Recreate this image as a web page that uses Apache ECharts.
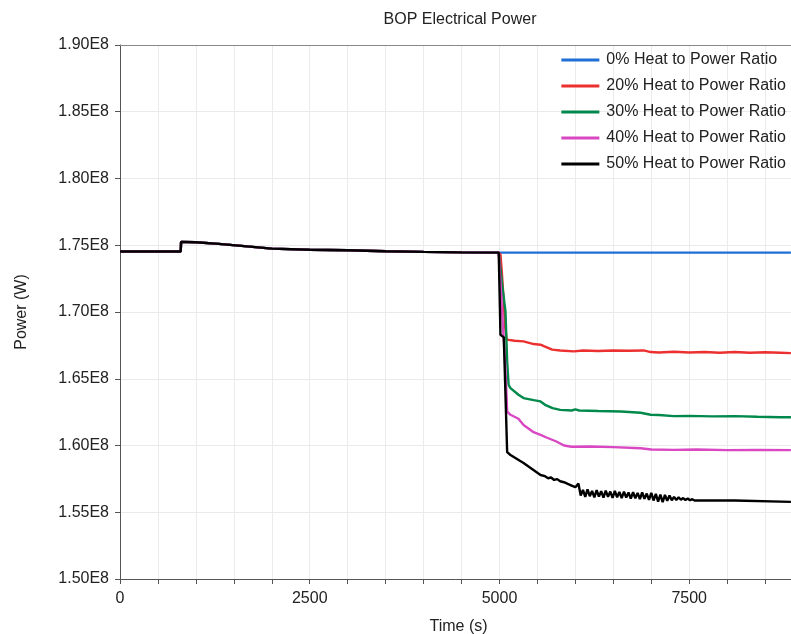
<!DOCTYPE html>
<html>
<head>
<meta charset="utf-8">
<script src="https://cdn.jsdelivr.net/npm/echarts@6/dist/echarts.min.js"></script>
<style>
html,body{margin:0;padding:0;background:#fff;}
#chart{width:791px;height:634px;}
</style>
</head>
<body>
<div id="chart"></div>
<script>
// Values in units of 1E8 W, time in seconds
var seriesNames = ['0% Heat to Power Ratio','20% Heat to Power Ratio','30% Heat to Power Ratio','40% Heat to Power Ratio','50% Heat to Power Ratio'];
var seriesColors = ['#1f6fd8','#ec3030','#00894a','#d948c2','#000000'];

// shared history before the event at t = 5000 s
var baseT = [0, 800, 805, 1000, 1300, 1600, 2000, 2500, 3000, 3500, 4000, 4500, 4990];
var baseV = [1.7453, 1.7453, 1.7525, 1.7522, 1.7510, 1.7495, 1.7475, 1.7466, 1.7462, 1.7455, 1.7450, 1.7447, 1.7445];

var blueT = [8840];
var blueV = [1.7445];

var redT = [5000, 5013, 5030, 5050, 5075, 5095, 5200, 5317, 5450, 5541, 5600, 5695, 5800, 5980, 6100, 6300, 6500, 6700, 6900, 6992, 7100, 7300, 7500, 7700, 7900, 8100, 8300, 8500, 8700, 8840];
var redV = [1.7445, 1.7430, 1.7306, 1.7131, 1.6883, 1.6793, 1.6785, 1.6780, 1.6760, 1.6755, 1.6740, 1.6718, 1.6712, 1.6705, 1.6712, 1.6708, 1.6712, 1.6710, 1.6712, 1.6700, 1.6697, 1.6702, 1.6697, 1.6700, 1.6695, 1.6700, 1.6695, 1.6698, 1.6695, 1.6692];

var greenT = [5000, 5035, 5079, 5101, 5120, 5145, 5250, 5317, 5450, 5541, 5600, 5700, 5800, 5950, 6000, 6050, 6300, 6600, 6860, 6992, 7100, 7296, 7500, 7800, 8100, 8400, 8700, 8840];
var greenV = [1.7445, 1.7206, 1.7005, 1.6630, 1.6455, 1.6430, 1.6380, 1.6355, 1.6340, 1.6330, 1.6305, 1.6280, 1.6267, 1.6262, 1.6270, 1.6262, 1.6258, 1.6255, 1.6245, 1.6230, 1.6228, 1.6220, 1.6222, 1.6218, 1.6220, 1.6215, 1.6212, 1.6212];

var pinkT = [5000, 5080, 5101, 5145, 5250, 5317, 5450, 5541, 5620, 5750, 5850, 5950, 6200, 6500, 6860, 7000, 7296, 7600, 8000, 8400, 8840];
var pinkV = [1.7445, 1.6555, 1.6254, 1.6230, 1.6200, 1.6154, 1.6100, 1.6079, 1.6060, 1.6030, 1.6000, 1.5991, 1.5993, 1.5988, 1.5979, 1.5970, 1.5967, 1.5970, 1.5965, 1.5967, 1.5965];

var blackT = [5000, 5013, 5057, 5101, 5145, 5317, 5541, 5600, 5640, 5680, 5720, 5760, 5800, 5850, 5900, 5950, 6000, 6025,
  6040, 6070, 6100, 6130, 6160, 6190, 6220, 6250, 6280, 6310, 6340, 6370, 6400, 6430, 6460, 6490, 6520, 6550, 6580, 6610,
  6640, 6670, 6700, 6730, 6760, 6790, 6820, 6850, 6880, 6910, 6940, 6970, 7000, 7030, 7060, 7090, 7120, 7150, 7180, 7210,
  7240, 7270, 7300, 7330, 7360, 7390, 7420, 7450, 7480, 7510, 7540, 7570, 7620, 8100, 8120, 8840];
var blackV = [1.7445, 1.6830, 1.6810, 1.5951, 1.5929, 1.5869, 1.5779, 1.5770, 1.5755, 1.5760, 1.5742, 1.5748, 1.5732, 1.5725, 1.5712, 1.5700, 1.5688, 1.5679,
  1.5716, 1.5625, 1.5668, 1.5615, 1.5672, 1.5620, 1.5660, 1.5612, 1.5665, 1.5618, 1.5658, 1.5610, 1.5662, 1.5615, 1.5655, 1.5608, 1.5660, 1.5612, 1.5652, 1.5606,
  1.5655, 1.5610, 1.5648, 1.5602, 1.5650, 1.5605, 1.5645, 1.5598, 1.5648, 1.5600, 1.5640, 1.5592, 1.5645, 1.5588, 1.5638, 1.5580, 1.5632, 1.5575, 1.5630, 1.5585,
  1.5625, 1.5590, 1.5615, 1.5592, 1.5612, 1.5594, 1.5606, 1.5592, 1.5603, 1.5590, 1.5598, 1.5588, 1.5588, 1.5588, 1.5578, 1.5578];

var xTickLabels = [0, 2500, 5000, 7500];

function pairs(ts, vs) {
  var out = [];
  for (var i = 0; i < ts.length; i++) out.push([ts[i], vs[i]]);
  return out;
}
function withBase(ts, vs) {
  return pairs(baseT, baseV).concat(pairs(ts, vs));
}
var seriesData = [
  withBase(blueT, blueV),
  withBase(redT, redV),
  withBase(greenT, greenV),
  withBase(pinkT, pinkV),
  withBase(blackT, blackV)
];

var font = "'Liberation Sans', Arial, sans-serif";
var chart = echarts.init(document.getElementById('chart'), null, {renderer: 'canvas'});
var option = {
  animation: false,
  backgroundColor: '#fff',
  title: {
    text: 'BOP Electrical Power',
    left: 455, top: 7, textAlign: 'center',
    textStyle: {fontFamily: font, fontSize: 16, fontWeight: 'normal', color: '#222'}
  },
  legend: {
    orient: 'vertical',
    right: 0, top: 47,
    icon: 'rect',
    itemWidth: 38, itemHeight: 3, itemGap: 10,
    textStyle: {fontFamily: font, fontSize: 16, color: '#222', padding: [0, 0, 0, 2]},
    data: seriesNames
  },
  grid: {left: 120, right: -6, top: 45, bottom: 55, containLabel: false, outerBoundsMode: 'none'},
  xAxis: [{
    type: 'value', min: 0, max: 8920, interval: 500,
    name: 'Time (s)', nameLocation: 'middle', nameGap: 40,
    nameTextStyle: {fontFamily: font, fontSize: 16, color: '#222'},
    axisLine: {lineStyle: {color: '#555', width: 1}},
    axisTick: {show: true, length: 5, lineStyle: {color: '#555'}},
    axisLabel: {
      fontFamily: font, fontSize: 16, color: '#222', margin: 12,
      showMaxLabel: false,
      formatter: function (v) { return xTickLabels.indexOf(v) >= 0 ? String(v) : ''; }
    },
    splitLine: {show: true, lineStyle: {color: '#ebebeb', width: 1}}
  }, {
    type: 'value', position: 'top', min: 0, max: 8920,
    axisLine: {show: true, onZero: false, lineStyle: {color: '#888'}},
    axisTick: {show: false}, axisLabel: {show: false}, splitLine: {show: false}
  }],
  yAxis: {
    type: 'value', min: 1.5, max: 1.9, interval: 0.05,
    name: 'Power (W)', nameLocation: 'middle', nameGap: 90, nameRotate: 90,
    nameTextStyle: {fontFamily: font, fontSize: 16, color: '#222'},
    axisLine: {show: true, lineStyle: {color: '#555', width: 1}},
    axisTick: {show: true, length: 5, lineStyle: {color: '#555'}},
    axisLabel: {
      fontFamily: font, fontSize: 16, color: '#222', margin: 11,
      formatter: function (v) { return v.toFixed(2) + 'E8'; }
    },
    splitLine: {show: true, lineStyle: {color: '#ebebeb', width: 1}}
  },
  series: seriesNames.map(function (n, i) {
    return {
      name: n, type: 'line', xAxisIndex: 0, data: seriesData[i],
      showSymbol: false, symbol: 'none',
      lineStyle: {color: seriesColors[i], width: 2.4},
      itemStyle: {color: seriesColors[i]},
      z: 2 + i
    };
  })
};
chart.setOption(option);
</script>
</body>
</html>
